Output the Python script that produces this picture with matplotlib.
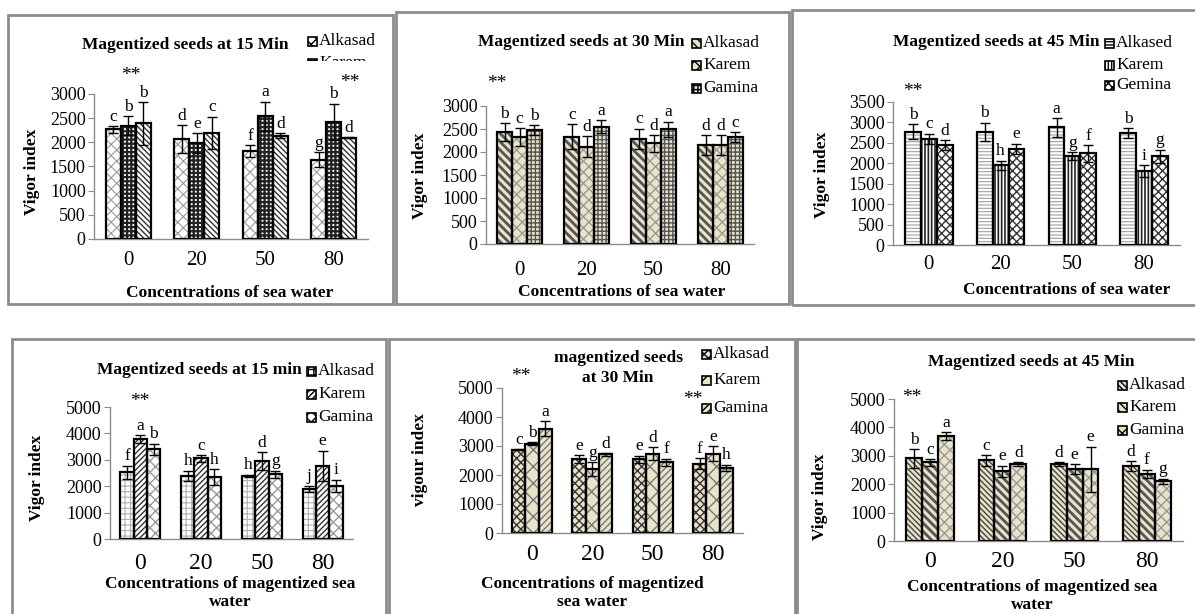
import matplotlib
matplotlib.use('Agg')
import matplotlib.pyplot as plt
from matplotlib.patches import Rectangle
from matplotlib.transforms import Bbox
import numpy as np

W, H = 1195, 614
plt.rcParams['font.family'] = ['Liberation Serif', 'DejaVu Serif']
plt.rcParams['hatch.linewidth'] = 1.0

concentrations = ['0', '20', '50', '80']

# --- top row: magnetized seeds, sea water ---
p1_alkasad = [2270, 2070, 1820, 1640]
p1_alkasad_err = [70, 290, 120, 150]
p1_karem = [2345, 1980, 2540, 2420]
p1_karem_err = [200, 210, 300, 380]
p1_gamina = [2390, 2200, 2140, 2100]
p1_gamina_err = [435, 330, 50, 10]
p1_letters = [['c', 'd', 'f', 'g'], ['b', 'e', 'a', 'b'], ['b', 'c', 'd', 'd']]
p1_stars = [(0.03, 3390), (3.24, 3230)]

p2_alkasad = [2440, 2330, 2290, 2150]
p2_alkasad_err = [190, 275, 220, 220]
p2_karem = [2320, 2115, 2185, 2150]
p2_karem_err = [195, 230, 180, 220]
p2_gamina = [2475, 2550, 2490, 2320]
p2_gamina_err = [110, 140, 170, 110]
p2_letters = [['b', 'c', 'c', 'd'], ['c', 'd', 'd', 'd'], ['b', 'a', 'a', 'c']]
p2_stars = [(-0.34, 3500)]

p3_alkasad = [2770, 2770, 2880, 2745]
p3_alkasad_err = [180, 220, 230, 120]
p3_karem = [2600, 1950, 2175, 1805]
p3_karem_err = [120, 115, 100, 145]
p3_gamina = [2445, 2355, 2240, 2175]
p3_gamina_err = [115, 120, 200, 160]
p3_letters = [['b', 'b', 'a', 'b'], ['c', 'h', 'g', 'i'], ['d', 'e', 'f', 'g']]
p3_stars = [(-0.22, 3745)]

# --- bottom row: magnetized seeds, magnetized sea water ---
p4_alkasad = [2530, 2400, 2390, 1900]
p4_alkasad_err = [240, 190, 40, 125]
p4_karem = [3785, 3055, 2955, 2780]
p4_karem_err = [150, 125, 330, 570]
p4_gamina = [3405, 2350, 2450, 2015]
p4_gamina_err = [210, 290, 140, 225]
p4_letters = [['f', 'h', 'h', 'j'], ['a', 'c', 'd', 'e'], ['b', 'h', 'g', 'i']]
p4_stars = [(-0.01, 5190)]

p5_alkasad = [2870, 2540, 2540, 2390]
p5_alkasad_err = [15, 140, 130, 190]
p5_karem = [3080, 2210, 2735, 2735]
p5_karem_err = [50, 230, 230, 260]
p5_gamina = [3600, 2710, 2445, 2250]
p5_gamina_err = [250, 50, 120, 110]
p5_letters = [['c', 'e', 'e', 'f'], ['b', 'g', 'd', 'e'], ['a', 'd', 'f', 'h']]
p5_stars = [(-0.19, 5380), (2.67, 4620)]

p6_alkasad = [2905, 2835, 2695, 2645]
p6_alkasad_err = [330, 190, 70, 170]
p6_karem = [2765, 2460, 2530, 2375]
p6_karem_err = [110, 190, 170, 140]
p6_gamina = [3695, 2695, 2530, 2105]
p6_gamina_err = [130, 70, 790, 90]
p6_letters = [['b', 'c', 'd', 'd'], ['c', 'e', 'e', 'f'], ['a', 'd', 'e', 'g']]
p6_stars = [(-0.25, 5070)]

BEIGE = '#e9e4c9'
GRAY = '#8c8c8c'


def fx(x):
    return x / W


def fy(y):
    return 1 - y / H


# style = (face, hatch, hatch colour, hatch line width)
panels = [
    dict(vals=[p1_alkasad, p1_karem, p1_gamina],
         errs=[p1_alkasad_err, p1_karem_err, p1_gamina_err],
         letters=p1_letters, stars=p1_stars, ymax=3000, ystep=500,
         box=(94, 94, 368, 239), border=(8, 15, 393, 304),
         styles=[('white', 'xxx', '#9a9a9a', 0.8), ('white', '++++', '#222222', 1.6),
                 ('white', r'\\\\\\', '#333333', 1.0)],
         names=['Alkasad', 'Karem'], title='Magentized seeds at 15 Min', title_xy=(185, 45),
         leg_x=308, leg_y=[41, 63], leg_clip=61,
         ylabel='Vigor index', ylabel_xy=(32, 172),
         xlabel='Concentrations of sea water', xlabel_xy=(230, 293), xtick_y=263, xtick_size=15),
    dict(vals=[p2_alkasad, p2_karem, p2_gamina],
         errs=[p2_alkasad_err, p2_karem_err, p2_gamina_err],
         letters=p2_letters, stars=p2_stars, ymax=3000, ystep=500,
         box=(486, 106, 754, 244), border=(396, 12, 789, 304),
         styles=[(BEIGE, r'\\\\', '#555555', 2.0), (BEIGE, 'xxx', '#9a9a9a', 1.0),
                 (BEIGE, '++++', '#555555', 1.0)],
         names=['Alkasad', 'Karem', 'Gamina'], title='Magentized seeds at 30 Min', title_xy=(581, 42),
         leg_x=692, leg_y=[43, 65, 88], leg_clip=None,
         ylabel='Vigor index', ylabel_xy=(420, 176),
         xlabel='Concentrations of sea water', xlabel_xy=(622, 292), xtick_y=273, xtick_size=15),
    dict(vals=[p3_alkasad, p3_karem, p3_gamina],
         errs=[p3_alkasad_err, p3_karem_err, p3_gamina_err],
         letters=p3_letters, stars=p3_stars, ymax=3500, ystep=500,
         box=(893, 102, 1180, 245), border=(792, 10, 1200, 305),
         styles=[('white', '-----', '#a0a0a0', 0.8), ('white', '|||||', '#222222', 1.2),
                 ('white', 'xxxx', '#333333', 1.0)],
         names=['Alkased', 'Karem', 'Gemina'], title='Magentized seeds at 45 Min', title_xy=(996, 42),
         leg_x=1105, leg_y=[43, 65, 85], leg_clip=None,
         ylabel='Vigor index', ylabel_xy=(822, 175),
         xlabel='Concentrations of sea water', xlabel_xy=(1067, 290), xtick_y=267, xtick_size=15),
    dict(vals=[p4_alkasad, p4_karem, p4_gamina],
         errs=[p4_alkasad_err, p4_karem_err, p4_gamina_err],
         letters=p4_letters, stars=p4_stars, ymax=5000, ystep=1000,
         box=(110, 407, 353, 539), border=(12, 339, 386, 620),
         styles=[('white', '+++', '#b0b0b0', 0.8), ('white', '//////', '#333333', 1.0),
                 ('white', 'xxx', '#9a9a9a', 1.0)],
         names=['Alkasad', 'Karem', 'Gamina'], title='Magentized seeds at 15 min', title_xy=(199, 370),
         leg_x=307, leg_y=[371, 394, 417], leg_clip=None,
         ylabel='Vigor index', ylabel_xy=(37, 478),
         xlabel='Concentrations of magentized sea\nwater', xlabel_xy=(230, 593), xtick_y=567, xtick_size=17),
    dict(vals=[p5_alkasad, p5_karem, p5_gamina],
         errs=[p5_alkasad_err, p5_karem_err, p5_gamina_err],
         letters=p5_letters, stars=p5_stars, ymax=5000, ystep=1000,
         box=(502, 388, 743, 533), border=(389, 339, 795, 620),
         styles=[(BEIGE, 'xxxx', '#333333', 1.0), (BEIGE, 'xx', '#777777', 1.0),
                 (BEIGE, '/////', '#777777', 1.0)],
         names=['Alkasad', 'Karem', 'Gamina'], title='magentized seeds\nat 30 Min', title_xy=(618, 368),
         leg_x=702, leg_y=[354, 380, 408], leg_clip=None,
         ylabel='vigour index', ylabel_xy=(420, 460),
         xlabel='Concentrations of magentized\nsea water', xlabel_xy=(592, 593), xtick_y=558, xtick_size=17),
    dict(vals=[p6_alkasad, p6_karem, p6_gamina],
         errs=[p6_alkasad_err, p6_karem_err, p6_gamina_err],
         letters=p6_letters, stars=p6_stars, ymax=5000, ystep=1000,
         box=(894, 399, 1183, 541), border=(797, 339, 1200, 620),
         styles=[(BEIGE, r'\\\\\\', '#444444', 1.0), (BEIGE, r'\\\\', '#555555', 2.0),
                 (BEIGE, 'xxx', '#999999', 1.0)],
         names=['Alkasad', 'Karem', 'Gamina'], title='Magentized seeds at 45 Min', title_xy=(1031, 362),
         leg_x=1118, leg_y=[385, 407, 430], leg_clip=None,
         ylabel='Vigor index', ylabel_xy=(820, 497),
         xlabel='Concentrations of magentized sea\nwater', xlabel_xy=(1032, 596), xtick_y=565, xtick_size=17),
]

fig = plt.figure(figsize=(W / 100, H / 100), dpi=100)

for p in panels:
    # panel frame
    bx0, by0, bx1, by1 = p['border']
    fig.patches.append(Rectangle((fx(bx0), fy(by1)), fx(bx1 - bx0), (by1 - by0) / H,
                                 transform=fig.transFigure, fill=False, edgecolor=GRAY, linewidth=2))

    x0, y0, x1, y1 = p['box']
    ax = fig.add_axes([fx(x0), fy(y1), fx(x1 - x0), (y1 - y0) / H])
    x = np.arange(len(concentrations))
    w = 0.22
    for j in range(3):
        face, hatch, hcol, hlw = p['styles'][j]
        xs = x + (j - 1) * w
        vals = p['vals'][j]
        errs = p['errs'][j]
        with plt.rc_context({'hatch.linewidth': hlw}):
            ax.bar(xs, vals, w, color=face, edgecolor=hcol, hatch=hatch, linewidth=0, zorder=2)
        ax.bar(xs, vals, w, fill=False, edgecolor='black', linewidth=1.6, zorder=3)
        ax.errorbar(xs, vals, yerr=errs, fmt='none', ecolor='black', elinewidth=1,
                    capsize=3.5, capthick=1, zorder=4)
        for xi, v, e, lab in zip(xs, vals, errs, p['letters'][j]):
            ax.annotate(lab, (xi, v + e), xytext=(0, 1), textcoords='offset points',
                        ha='center', va='bottom', fontsize=12.5, annotation_clip=False)
    for sx, sy in p['stars']:
        ax.text(sx, sy, '**', ha='center', va='center', fontsize=14, clip_on=False)

    ax.set_xlim(-0.5, 3.5)
    ax.set_ylim(0, p['ymax'])
    ax.set_yticks(np.arange(0, p['ymax'] + 1, p['ystep']))
    ax.set_xticks(x)
    ax.set_xticklabels(concentrations)
    for s in ['top', 'right']:
        ax.spines[s].set_visible(False)
    for s in ['left', 'bottom']:
        ax.spines[s].set_color(GRAY)
        ax.spines[s].set_linewidth(1)
    ax.tick_params(axis='y', direction='out', length=4, color=GRAY, labelsize=13, pad=2)
    em = p['xtick_size'] / 0.72
    pad_px = p['xtick_y'] - y1 - 0.58 * em
    ax.tick_params(axis='x', length=0, labelsize=p['xtick_size'], pad=max(pad_px, 0) * 0.72)
    ax.set_facecolor('none')

    # titles and axis labels
    tx, ty = p['title_xy']
    fig.text(fx(tx), fy(ty), p['title'], ha='center', va='center', fontsize=12.5,
             fontweight='bold', linespacing=1.25)
    lx, ly = p['ylabel_xy']
    fig.text(fx(lx), fy(ly), p['ylabel'], ha='center', va='center', rotation=90,
             fontsize=12.5, fontweight='bold')
    xx, xy = p['xlabel_xy']
    fig.text(fx(xx), fy(xy), p['xlabel'], ha='center', va='center', fontsize=12.5,
             fontweight='bold', linespacing=1.15)

    # legend drawn by hand so rows sit where the reference has them
    clip = None
    if p['leg_clip'] is not None:
        clip = Bbox([[0, H - p['leg_clip']], [W, H]])
    for (face, hatch, hcol, hlw), name, ly in zip(p['styles'], p['names'], p['leg_y']):
        sw = Rectangle((fx(p['leg_x']), fy(ly + 4.5)), fx(9), 9 / H, transform=fig.transFigure,
                       facecolor=face, edgecolor='black', hatch=hatch, linewidth=1.2)
        fig.patches.append(sw)
        t = fig.text(fx(p['leg_x'] + 11), fy(ly), name, ha='left', va='center', fontsize=12.5)
        if clip is not None:
            sw.set_clip_box(clip)
            t.set_clip_box(clip)
            t.set_clip_on(True)

fig.savefig('out.png', dpi=100)
